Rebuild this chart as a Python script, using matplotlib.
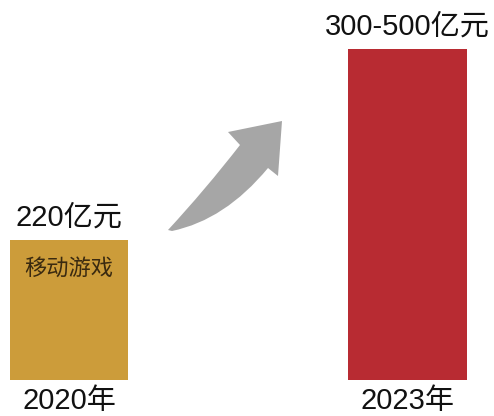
import matplotlib
matplotlib.use("Agg")
import matplotlib.pyplot as plt
from matplotlib.path import Path
from matplotlib.patches import PathPatch

plt.rcParams['font.family'] = ['Liberation Sans', 'Noto Sans CJK SC', 'DejaVu Sans']

years = ["2020年", "2023年"]
values = [220, 520]
value_labels = ["220亿元", "300-500亿元"]
colors = ["#CC9C3A", "#B82B32"]
inner_label = "移动游戏"

W, H = 494, 416
fig = plt.figure(figsize=(W / 100, H / 100), dpi=100)
ax = fig.add_axes([0, 0, 1, 1])
ax.set_axis_off()

x = list(range(len(years)))
bars = ax.bar(x, values, width=0.349, color=colors, edgecolor="none")
ax.set_xlim(-0.204, 1.2555)
ax.set_ylim(-56.6, 597)

for xi, v, lab, yr in zip(x, values, value_labels, years):
    ax.annotate(lab, (xi, v), xytext=(0, 6), textcoords="offset points",
                ha="center", va="bottom", fontsize=21, color="#111111")
    ax.annotate(yr, (xi, 0), xytext=(0, -5), textcoords="offset points",
                ha="center", va="top", fontsize=21, color="#111111")

ax.annotate(inner_label, (x[0], values[0]), xytext=(0, -12), textcoords="offset points",
            ha="center", va="top", fontsize=16, color="#3a2a10",
            family=['Noto Sans CJK SC'], fontweight='light')

# curved arrow shape (figure pixels, y from top)
def P(px, py):
    return (px, H - py)

verts = [P(168, 230), P(205, 190), P(240, 145),
         P(228, 132), P(282, 121), P(278, 176),
         P(268, 168), P(225, 220), P(172, 231), P(168, 230)]
codes = [Path.MOVETO, Path.CURVE3, Path.CURVE3,
         Path.LINETO, Path.LINETO, Path.LINETO,
         Path.LINETO, Path.CURVE3, Path.CURVE3, Path.CLOSEPOLY]
arrow = PathPatch(Path(verts, codes), facecolor="#A6A6A6", edgecolor="none",
                  transform=None)
fig.add_artist(arrow)

fig.savefig("out.png", dpi=100)
